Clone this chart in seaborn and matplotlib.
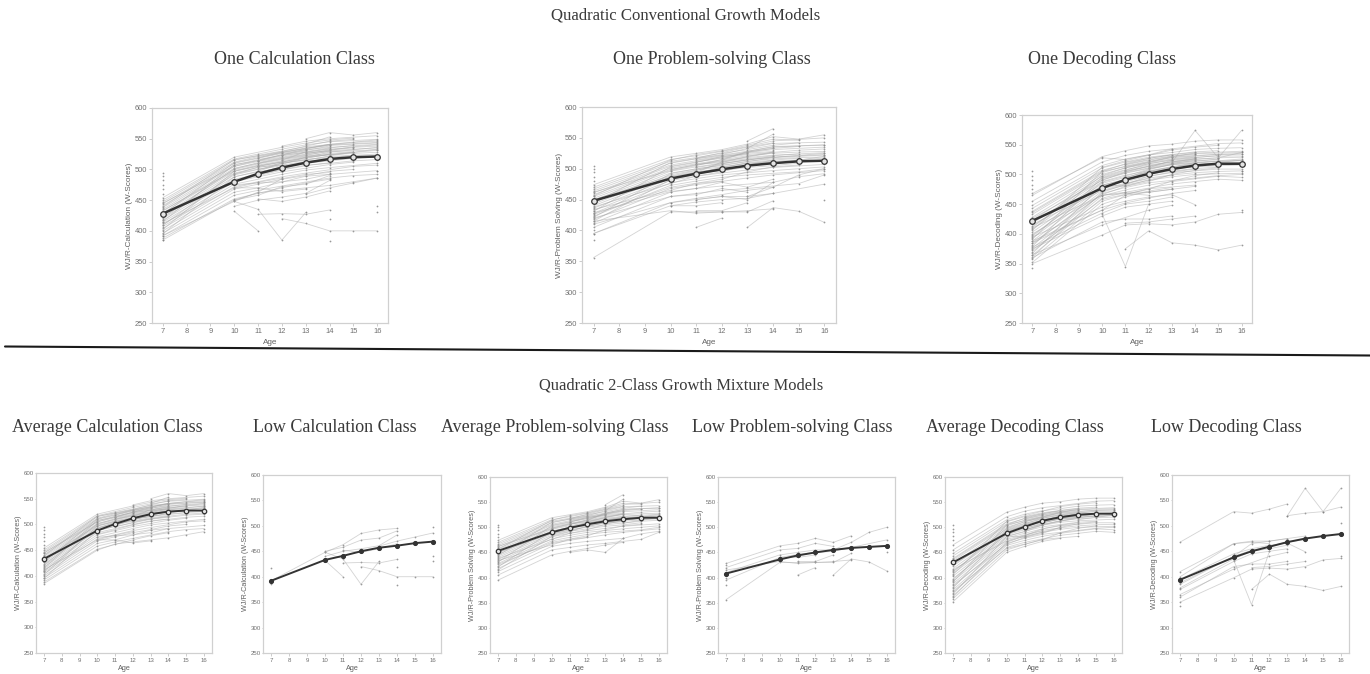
import numpy as np
import pandas as pd
import seaborn as sns
import matplotlib.pyplot as plt
from matplotlib.lines import Line2D

NA = np.nan
AGES = [7, 10, 11, 12, 13, 14, 15, 16]
Y_TICKS = [250, 300, 350, 400, 450, 500, 550, 600]

# estimated class means
CALC_ONE = [428, 480, 493, 503, 511, 517, 520, 521]
CALC_AVG_MEAN = [433, 488, 501, 512, 520, 525, 527, 527]
CALC_LOW_MEAN = [392, 433, 441, 450, 457, 461, 466, 469]
PROB_ONE = [448, 484, 492, 499, 505, 509, 512, 513]
PROB_AVG_MEAN = [453, 490, 499, 506, 512, 516, 519, 519]
PROB_LOW_MEAN = [408, 436, 444, 450, 455, 459, 461, 463]
DEC_ONE = [422, 477, 491, 501, 509, 515, 518, 518]
DEC_AVG_MEAN = [430, 488, 501, 513, 520, 525, 527, 527]
DEC_LOW_MEAN = [394, 438, 450, 459, 468, 475, 480, 484]

# individual trajectories, one row per child, columns follow AGES
CALC_AVG = [
    [385, 450, 462, 466, 470, 474, 480, 486],
    [388, 452, NA, 470, 478, 484, NA, NA],
    [392, 458, 466, 473, NA, 486, 490, 492],
    [396, 463, 470, NA, 489, 492, NA, 498],
    [400, 468, 476, 484, 490, 497, 500, NA],
    [404, 472, 480, 488, 494, NA, 505, 507],
    [407, 476, NA, 492, 499, 503, NA, 510],
    [410, 480, 488, 496, 502, 508, 512, NA],
    [414, 484, NA, 500, 507, 510, 514, 516],
    [417, 488, 496, 503, 510, NA, 518, 520],
    [420, 491, 500, 506, NA, 516, 520, 522],
    [423, 494, 503, 510, 516, 521, NA, 525],
    [426, 497, 506, NA, 519, 524, 526, 528],
    [429, 500, 509, 516, 522, 526, 529, NA],
    [432, 502, NA, 518, 524, 529, NA, 532],
    [435, 505, 513, 520, 527, NA, 533, 535],
    [438, 507, 516, 523, NA, 533, 536, 538],
    [441, 510, 518, 526, 532, 536, NA, 541],
    [444, 512, 521, NA, 535, 539, 541, 543],
    [447, 515, 523, 530, 537, NA, 544, 546],
    [450, 517, 525, 533, 540, 545, NA, 549],
    [454, 520, NA, 536, 543, 548, 551, NA],
    [395, 488, 497, 510, 515, 522, NA, NA],
    [402, 497, 505, 512, NA, 528, NA, 536],
    [409, 493, NA, 508, 520, 524, 528, NA],
    [415, 508, 514, 524, 530, NA, NA, NA],
    [421, 501, 511, 519, 525, 532, 535, NA],
    [427, 511, NA, 527, 534, 541, NA, 548],
    [433, 498, 507, 514, 521, NA, NA, 531],
    [439, 516, 522, 529, 538, 546, 549, NA],
    [445, 505, 515, 524, 533, 540, NA, 544],
    [412, 470, 479, 486, NA, NA, NA, NA],
    [NA, NA, 499, 511, 516, 519, 523, NA],
    [NA, NA, NA, 515, 529, 535, 539, NA],
    [NA, 492, 504, 507, 513, 517, NA, NA],
    [NA, NA, 519, 528, 534, 541, NA, NA],
    [NA, NA, NA, NA, 541, 553, NA, NA],
    [NA, NA, NA, NA, 526, 531, 537, 540],
    [NA, NA, NA, NA, NA, 522, 528, 533],
    [NA, NA, NA, 538, 546, 550, NA, 555],
    [NA, NA, NA, NA, 550, 560, 556, 560],
    [NA, 481, 490, 499, 506, 511, NA, NA],
    [NA, NA, 495, 504, 511, 515, NA, NA],
    [NA, NA, 505, 512, 518, 525, NA, NA],
    [NA, NA, 510, 517, 523, 530, NA, NA],
    [NA, NA, 514, 522, 528, 534, NA, NA],
    [NA, NA, NA, 524, 531, 538, NA, NA],
    [NA, 470, 470, 464, 468, NA, NA, NA],
    [NA, 475, 478, 480, 484, 492, NA, NA],
    [460, NA, NA, NA, NA, NA, NA, NA],
    [468, NA, NA, NA, NA, NA, NA, NA],
    [475, NA, NA, NA, NA, NA, NA, NA],
    [482, NA, NA, NA, NA, NA, NA, NA],
    [489, NA, NA, NA, NA, NA, NA, NA],
    [495, NA, NA, NA, NA, NA, NA, NA],
]
CALC_LOW = [
    [392, 448, 463, 485, 492, 495, NA, NA],
    [NA, 450, 458, 472, 476, 490, NA, NA],
    [NA, 432, 400, NA, NA, NA, NA, NA],
    [NA, 448, 435, 385, 430, NA, NA, NA],
    [NA, NA, NA, 420, 412, 400, 400, 400],
    [NA, NA, 427, 428, 427, 434, NA, NA],
    [NA, NA, 452, 448, 455, 465, NA, NA],
    [NA, 440, 450, 455, 461, 482, NA, NA],
    [NA, NA, NA, NA, 460, 470, 478, 486],
    [418, NA, NA, NA, NA, NA, NA, NA],
    [385, NA, NA, NA, NA, NA, NA, NA],
    [NA, NA, NA, NA, NA, 384, NA, NA],
    [NA, NA, NA, NA, NA, 420, NA, NA],
    [NA, NA, NA, NA, NA, NA, NA, 497],
    [NA, NA, NA, NA, NA, NA, NA, 440],
    [NA, NA, NA, NA, NA, NA, NA, 430],
]
PROB_AVG = [
    [395, 445, 452, 458, 465, 470, NA, NA],
    [405, 455, 460, 465, 468, NA, 476, 490],
    [412, 462, 468, 472, NA, 478, 487, 492],
    [418, 468, 474, NA, 485, 490, NA, 497],
    [423, 473, 480, 486, 490, NA, 495, 500],
    [428, 477, 484, 490, NA, 497, 500, 503],
    [432, 481, 488, NA, 498, 502, NA, 507],
    [436, 484, 492, 497, 502, 505, 509, NA],
    [440, 487, 495, 500, 505, NA, 512, 514],
    [443, 490, 498, 503, 509, 512, NA, 517],
    [446, 493, NA, 506, 512, 516, 518, 519],
    [449, 496, 503, 509, NA, 519, 521, 523],
    [452, 499, 506, 512, 518, 522, NA, 526],
    [455, 501, 508, NA, 521, 525, 527, 528],
    [458, 504, 511, 517, 523, NA, 530, 532],
    [461, 506, 513, 519, 526, 531, NA, 535],
    [464, 509, 516, 522, NA, 535, 537, 539],
    [467, 512, 518, 525, 531, 538, 542, NA],
    [470, 515, 521, 528, 536, 545, NA, 550],
    [474, 519, 525, 531, 540, 552, 548, 555],
    [415, 482, 491, 503, 508, 511, NA, NA],
    [421, 492, 500, 505, NA, 518, NA, 522],
    [426, 470, NA, 483, 495, 503, 506, NA],
    [431, 503, 510, 520, 524, NA, NA, NA],
    [438, 476, 488, 495, 506, 514, 517, NA],
    [444, 510, NA, 523, 533, 541, NA, 543],
    [450, 488, 497, 508, 515, NA, NA, 525],
    [456, 514, 523, 529, 538, 548, 546, NA],
    [462, 497, 505, 515, 528, 536, NA, 538],
    [434, 465, 476, 480, NA, NA, NA, NA],
    [NA, NA, 494, 511, 516, 521, 524, NA],
    [NA, NA, NA, 514, 527, 533, 536, NA],
    [NA, 498, 507, 510, 520, 527, NA, NA],
    [NA, NA, 517, 526, 535, 542, NA, NA],
    [NA, NA, NA, NA, 533, 556, NA, NA],
    [NA, NA, NA, NA, NA, 508, 514, 520],
    [NA, NA, NA, NA, 545, 565, NA, NA],
    [NA, NA, 502, 508, 514, 520, NA, NA],
    [NA, NA, 507, 513, 519, 526, NA, NA],
    [NA, NA, 511, 518, 525, 528, NA, NA],
    [NA, NA, 514, 521, 527, 533, NA, NA],
    [NA, 486, 494, 501, 510, 514, NA, NA],
    [NA, NA, 450, 455, 450, 478, NA, NA],
    [480, NA, NA, NA, NA, NA, NA, NA],
    [487, NA, NA, NA, NA, NA, NA, NA],
    [494, NA, NA, NA, NA, NA, NA, NA],
    [500, NA, NA, NA, NA, NA, NA, NA],
    [505, NA, NA, NA, NA, NA, NA, NA],
]
PROB_LOW = [
    [356, 430, 430, 430, 432, 435, NA, NA],
    [428, 463, 468, 478, 470, 483, NA, NA],
    [NA, NA, 405, 420, NA, NA, NA, NA],
    [NA, NA, NA, NA, 405, 437, 431, 413],
    [NA, NA, NA, NA, 455, 470, 490, 500],
    [NA, 440, 446, 450, 452, 460, NA, 475],
    [395, 440, 440, 445, NA, NA, NA, NA],
    [410, 445, 450, 455, 455, 460, NA, NA],
    [415, 432, 428, 430, 430, 448, NA, NA],
    [NA, NA, 432, 432, 445, NA, NA, NA],
    [420, 455, 458, 468, 462, NA, NA, NA],
    [385, NA, NA, NA, NA, NA, NA, NA],
    [400, NA, NA, NA, NA, NA, NA, NA],
    [425, NA, NA, NA, NA, NA, NA, NA],
    [NA, NA, NA, NA, NA, NA, NA, 450],
]
DEC_AVG = [
    [352, 450, 462, 472, 478, NA, NA, NA],
    [358, 455, 466, 476, NA, 482, NA, NA],
    [364, 460, 470, NA, 484, 488, 492, 490],
    [370, 464, 474, 482, 488, NA, 497, 495],
    [376, 468, 478, 486, NA, 494, 498, 500],
    [382, 472, 482, 490, 496, 500, NA, 502],
    [388, 476, NA, 494, 499, 503, 505, 506],
    [393, 479, 488, 497, 503, NA, 509, 509],
    [398, 482, 492, 501, NA, 510, 512, NA],
    [403, 485, 495, 504, 510, 513, NA, 516],
    [408, 488, 499, NA, 513, 517, 519, 520],
    [413, 491, 502, 510, 516, NA, 522, 523],
    [418, 494, 505, 513, 519, 523, 525, NA],
    [423, 497, 508, 516, NA, 526, 528, 529],
    [428, 500, 511, NA, 525, 529, 531, 531],
    [433, 503, 514, 522, 528, NA, 534, 534],
    [438, 507, 517, 525, 531, 535, NA, 537],
    [443, 511, 521, 529, NA, 538, 540, NA],
    [448, 515, 526, 533, 537, 542, 544, 545],
    [455, 521, 532, 539, 543, NA, 552, 553],
    [465, 530, 540, 548, 551, 556, 558, 558],
    [361, 470, 483, 497, 504, 509, NA, NA],
    [367, 482, 491, 505, NA, 520, NA, 524],
    [373, 458, NA, 475, 489, 498, 503, NA],
    [379, 495, 507, 518, 524, NA, NA, NA],
    [385, 466, 480, 488, 500, 507, 511, NA],
    [391, 505, NA, 521, 530, 536, NA, 539],
    [396, 487, 497, 509, 517, NA, NA, 526],
    [406, 512, 523, 532, 541, 546, 549, NA],
    [411, 498, 511, 520, 529, 532, NA, 535],
    [416, 473, 484, 493, NA, NA, NA, NA],
    [426, 490, 504, 514, 522, 527, NA, NA],
    [436, 505, 518, 527, 533, NA, NA, NA],
    [NA, NA, 493, 508, 517, 522, 526, NA],
    [NA, NA, NA, 511, 524, 528, 532, NA],
    [NA, 493, 503, 511, 518, 524, NA, NA],
    [NA, NA, NA, NA, NA, 515, 520, 524],
    [NA, NA, 495, 505, 512, 518, NA, NA],
    [NA, NA, 506, 514, 521, 526, NA, NA],
    [NA, NA, 512, 520, 526, 530, NA, NA],
    [NA, NA, 516, 524, 530, 534, NA, NA],
    [NA, NA, 520, 527, 533, 537, NA, NA],
    [NA, 483, 480, 491, 499, NA, NA, NA],
    [475, NA, NA, NA, NA, NA, NA, NA],
    [482, NA, NA, NA, NA, NA, NA, NA],
    [490, NA, NA, NA, NA, NA, NA, NA],
    [497, NA, NA, NA, NA, NA, NA, NA],
    [505, NA, NA, NA, NA, NA, NA, NA],
]
DEC_LOW = [
    [468, 528, 525, 533, 543, NA, NA, NA],
    [NA, NA, NA, NA, 520, 525, 528, 537],
    [NA, NA, NA, NA, 520, 574, 528, 574],
    [350, 398, 415, 417, 415, 420, 433, 436],
    [NA, 433, 345, 450, NA, NA, NA, NA],
    [NA, NA, 375, 405, 385, 381, 373, 381],
    [360, 420, 425, 425, 430, NA, NA, NA],
    [378, 435, 450, 455, 462, NA, NA, NA],
    [388, 440, 452, 460, 468, 473, NA, NA],
    [395, 445, 455, 462, 466, 449, NA, NA],
    [385, 440, 465, 470, 475, 480, NA, NA],
    [400, 465, 470, 470, 475, NA, NA, NA],
    [410, 465, 468, 465, NA, NA, NA, NA],
    [375, 430, 445, 450, 455, NA, NA, NA],
    [365, 415, NA, 440, 448, NA, NA, NA],
    [NA, NA, 418, 420, 425, 430, NA, NA],
    [NA, NA, NA, NA, NA, NA, NA, 505],
    [NA, NA, NA, NA, NA, NA, NA, 440],
    [342, NA, NA, NA, NA, NA, NA, NA],
]

TOP_TITLES = ["One Calculation Class", "One Problem-solving Class", "One Decoding Class"]
BOTTOM_TITLES = ["Average Calculation Class", "Low Calculation Class",
                 "Average Problem-solving Class", "Low Problem-solving Class",
                 "Average Decoding Class", "Low Decoding Class"]
LABEL_CALC = "WJ/R-Calculation (W-Scores)"
LABEL_PROB = "WJ/R-Problem Solving (W-Scores)"
LABEL_DEC = "WJ/R-Decoding (W-Scores)"

W, H = 1370, 674
sns.set_style("white")
plt.rcParams["font.family"] = ["Liberation Sans", "DejaVu Sans"]


def to_long(rows):
    df = pd.DataFrame(rows, columns=AGES)
    df["id"] = range(len(df))
    return df.melt(id_vars="id", var_name="age", value_name="score").dropna()


def draw_panel(fig, box, rows, means, ylabel, open_marker, small):
    left, top, right, bottom = box
    ax = fig.add_axes([left / W, 1 - bottom / H, (right - left) / W, (bottom - top) / H])
    long = to_long(rows)
    sns.lineplot(data=long, x="age", y="score", units="id", estimator=None, color="#a8a8a8",
                 lw=0.6, alpha=0.5, ax=ax, legend=False)
    sns.scatterplot(data=long, x="age", y="score", color="#808080", s=1.6, linewidth=0,
                    alpha=0.8, ax=ax, legend=False)
    mean_df = pd.DataFrame({"age": AGES, "score": means})
    sns.lineplot(data=mean_df, x="age", y="score", color="#333333", lw=1.4 if small else 1.8,
                 marker="o", markersize=(3.2 if small else 4) if open_marker else 2.8,
                 markerfacecolor="#e4e4e4" if open_marker else "#333333",
                 markeredgecolor="#333333", markeredgewidth=0.9, ax=ax, legend=False)
    ax.set_xlim(6.55, 16.45)
    ax.set_ylim(250, 600)
    ax.set_xticks(range(7, 17))
    ax.set_yticks(Y_TICKS)
    size = 4.4 if small else 5.4
    ax.tick_params(axis="x", length=2, width=0.6, color="#c4c4c4", labelsize=size,
                   labelcolor="#707070", pad=1.5, bottom=True)
    ax.tick_params(axis="y", length=1 if small else 2, width=0.6, color="#c4c4c4", labelsize=size,
                   labelcolor="#707070", pad=0.5 if small else 1.5, left=True)
    ax.set_xlabel("Age", fontsize=5.2 if small else 5.9, color="#606060", labelpad=1.5 if small else 3)
    ax.set_ylabel(ylabel, fontsize=5.2 if small else 5.9, color="#606060", labelpad=1 if small else 1)
    for spine in ax.spines.values():
        spine.set_color("#d0d0d0")
        spine.set_linewidth(0.9)
    return ax


def put_title(fig, text, x, y, size):
    fig.text(x / W, 1 - y / H, text, ha="center", va="center", fontsize=size,
             family="Liberation Serif", color="#3a3a3a")


def main():
    fig = plt.figure(figsize=(W / 100, H / 100), dpi=100)

    draw_panel(fig, (152, 108, 388, 323), CALC_AVG + CALC_LOW, CALC_ONE, LABEL_CALC, True, False)
    draw_panel(fig, (582, 107, 836, 323), PROB_AVG + PROB_LOW, PROB_ONE, LABEL_PROB, True, False)
    draw_panel(fig, (1022, 115, 1252, 323), DEC_AVG + DEC_LOW, DEC_ONE, LABEL_DEC, True, False)

    draw_panel(fig, (36, 473, 212, 653), CALC_AVG, CALC_AVG_MEAN, LABEL_CALC, True, True)
    draw_panel(fig, (263, 475, 441, 653), CALC_LOW, CALC_LOW_MEAN, LABEL_CALC, False, True)
    draw_panel(fig, (490, 477, 667, 653), PROB_AVG, PROB_AVG_MEAN, LABEL_PROB, True, True)
    draw_panel(fig, (718, 477, 895, 653), PROB_LOW, PROB_LOW_MEAN, LABEL_PROB, False, True)
    draw_panel(fig, (945, 477, 1122, 653), DEC_AVG, DEC_AVG_MEAN, LABEL_DEC, True, True)
    draw_panel(fig, (1172, 475, 1349, 653), DEC_LOW, DEC_LOW_MEAN, LABEL_DEC, False, True)

    put_title(fig, "Quadratic Conventional Growth Models", 686, 16, 12.1)
    for text, x in zip(TOP_TITLES, [294, 712, 1102]):
        put_title(fig, text, x, 60, 13)
    put_title(fig, "Quadratic 2-Class Growth Mixture Models", 681, 385, 11.9)
    for text, x in zip(BOTTOM_TITLES, [107, 335, 555, 792, 1015, 1226]):
        put_title(fig, text, x, 428, 13)

    # separator between the two rows of panels
    fig.add_artist(Line2D([5 / W, 1], [1 - 346.5 / H, 1 - 355.5 / H], color="#1a1a1a", lw=1.5,
                          transform=fig.transFigure))

    fig.savefig("out.png", dpi=100)


main()
